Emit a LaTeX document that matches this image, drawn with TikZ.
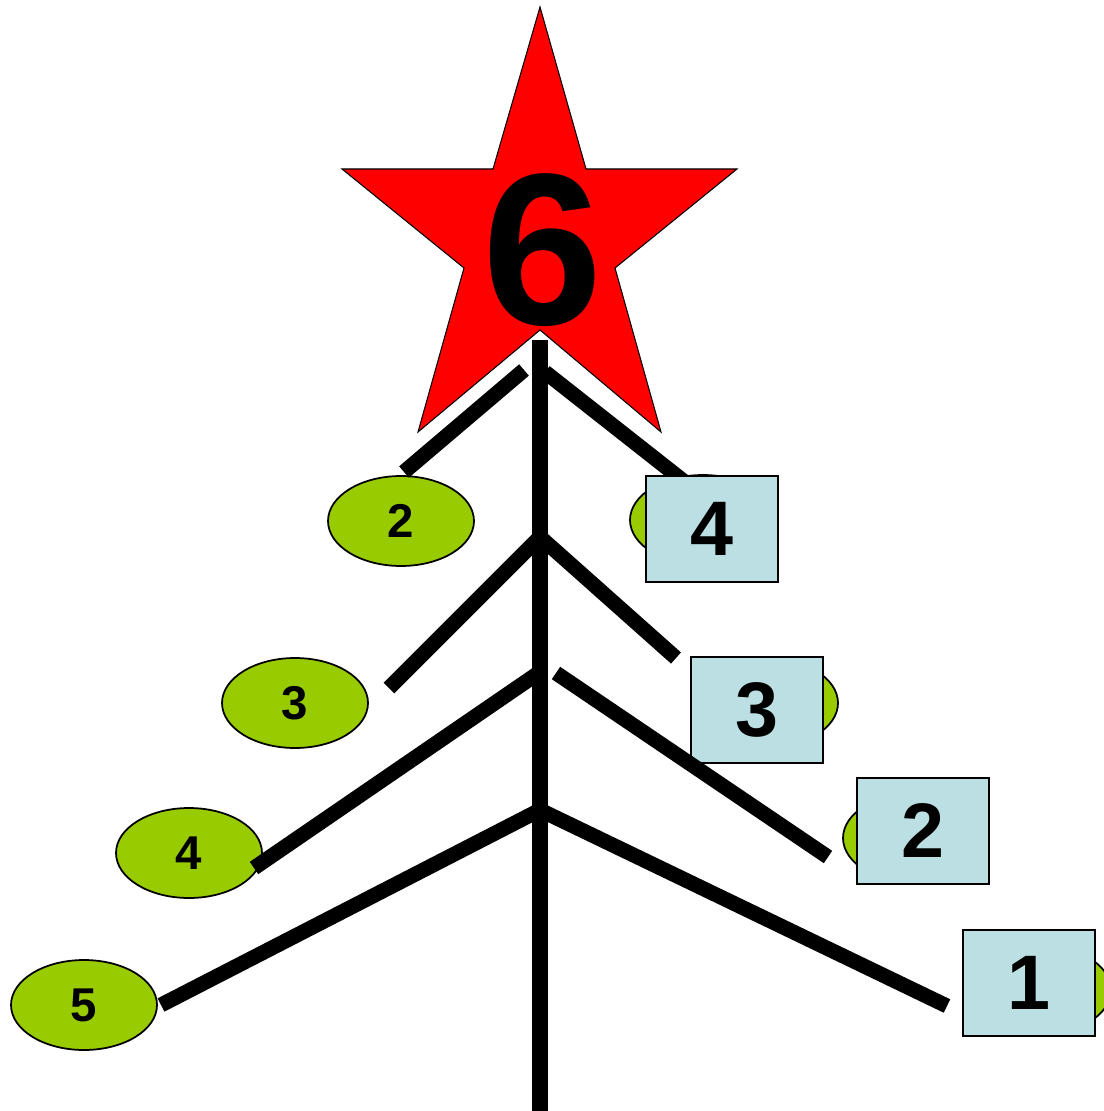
\documentclass[tikz,border=0pt]{standalone}
\usepackage{fontspec}
\setmainfont{Liberation Sans}
\usetikzlibrary{shapes.geometric}
\definecolor{leafgreen}{HTML}{99CC00}
\definecolor{tagblue}{HTML}{BBDFE3}
\definecolor{starred}{HTML}{FF0000}

\begin{document}
\begin{tikzpicture}[
  x=0.02cm,y=-0.02cm,
  leaf/.style={ellipse,draw=black,line width=1pt,fill=leafgreen,minimum width=2.92cm,minimum height=1.8cm,inner sep=0pt,font=\fontsize{27}{27}\selectfont\bfseries},
  tag/.style={rectangle,draw=black,line width=0.9pt,fill=tagblue,minimum width=2.64cm,minimum height=2.12cm,inner sep=0pt,font=\fontsize{44}{44}\selectfont\bfseries},
  branch/.style={line width=8.5pt,color=black}
]
\useasboundingbox (0,0) rectangle (1103,1111);
% star on top
\draw[fill=starred,draw=black,line width=0.6pt] (540,7) -- (586,169) -- (737,169) -- (615,268) -- (661,432)
  -- (540,330) -- (418,432) -- (464,268) -- (342,169) -- (493,169) -- cycle;
\node[inner sep=0pt,font=\fontsize{123}{123}\selectfont\bfseries] (six) at (543,250) {6};
% leaves
\node[leaf] (l2) at (401,521) {2};
\node[leaf] (l3) at (295,703) {3};
\node[leaf] (l4) at (189,853) {4};
\node[leaf] (l5) at (84,1005) {5};
\node[leaf] (r4) at (703,520) {};
\node[leaf] (r3) at (765,703) {};
\node[leaf] (r2) at (916,838) {};
\node[leaf] (r1) at (1038,990) {};
% points on the trunk
\coordinate (t0) at (540,340);
\coordinate (t1) at (545,372);
\coordinate (t2) at (540,537);
\coordinate (t3) at (540,672);
\coordinate (t4) at (540,810);
\coordinate (tend) at (540,1111);
\coordinate (e1) at (686,483);
\draw[branch] (t1) -- (e1);
% tags
\node[tag] (b4) at (712,529) {4};
\node[tag] (b3) at (757,710) {3};
\node[tag] (b2) at (923,831) {2};
\node[tag] (b1) at (1029,983) {1};
% branches
\coordinate (a1) at (524,370);
\coordinate (e2) at (404,472);
\coordinate (e3) at (389,688);
\coordinate (e4) at (254,868);
\coordinate (e5) at (161,1005);
\coordinate (f2) at (676,658);
\coordinate (s3) at (556,673);
\coordinate (f3) at (828,857);
\coordinate (f4) at (947,1006);
\draw[branch] (a1) -- (e2);
\draw[branch] (t2) -- (e3);
\draw[branch] (t2) -- (f2);
\draw[branch] (t3) -- (e4);
\draw[branch] (s3) -- (f3);
\draw[branch] (t4) -- (e5);
\draw[branch] (t4) -- (f4);
\draw[branch,line width=9pt] (t0) -- (tend);
\end{tikzpicture}
\end{document}
